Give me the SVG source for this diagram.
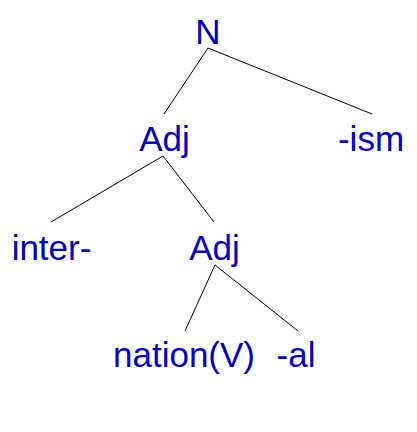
<svg xmlns="http://www.w3.org/2000/svg" width="417" height="432" viewBox="0 0 417 432">
<style>
.lbl{font-family:"Liberation Sans",Arial,sans-serif;font-size:35px;fill:#0000cc;text-anchor:middle}
.edge{stroke:#000;stroke-width:1;fill:none}
</style>
<rect width="417" height="432" fill="#fff"/>
<g id="connectors">
<line class="edge" x1="208" y1="48" x2="164" y2="114"/>
<line class="edge" x1="208" y1="48" x2="372" y2="114"/>
<line class="edge" x1="163" y1="156" x2="51" y2="222"/>
<line class="edge" x1="163" y1="156" x2="214" y2="222"/>
<line class="edge" x1="215" y1="265" x2="185" y2="331"/>
<line class="edge" x1="215" y1="265" x2="298" y2="331"/>
</g>
<g id="N"><text class="lbl" x="208" y="44">N</text></g>
<g id="Adj1"><text class="lbl" x="164.5" y="151">Adj</text></g>
<g id="ism"><text class="lbl" x="371" y="151">-ism</text></g>
<g id="inter"><text class="lbl" x="51.5" y="260">inter-</text></g>
<g id="Adj2"><text class="lbl" x="214.5" y="260">Adj</text></g>
<g id="nation"><text class="lbl" x="184" y="367">nation(V)</text></g>
<g id="al"><text class="lbl" x="296" y="367">-al</text></g>
</svg>
